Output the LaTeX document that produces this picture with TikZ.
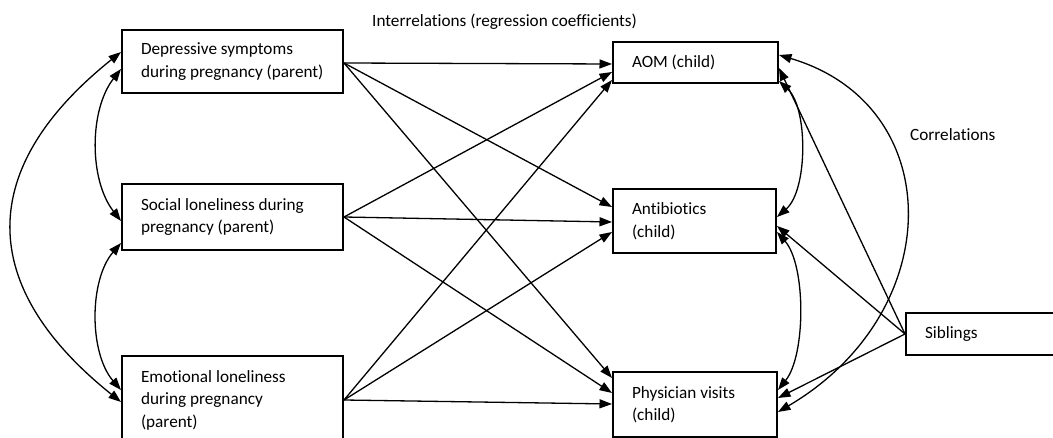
\documentclass[tikz,border=0pt]{standalone}
\usepackage{fontspec}
\setmainfont{Carlito}[Ligatures=NoCommon]
\usetikzlibrary{arrows.meta}
\begin{document}
\begin{tikzpicture}[x=1pt,y=-1pt,
  txt/.style={font=\fontsize{17.2}{22.5}\selectfont},
  box/.style={txt, draw, line width=2pt, align=flush left, inner xsep=19pt, inner ysep=2pt},
  tip/.tip={Triangle[length=12.5pt,width=9pt]},
  link/.style={line width=1.3pt, -tip},
  both/.style={line width=1.3pt, tip-tip},
  caption/.style={txt, anchor=base west, inner sep=0pt}
]
\useasboundingbox (0,0) rectangle (1053,438);

% predictors (parent)
\node[box, text width=183pt, minimum height=63pt] (dep) at (232.5,61.5)
  {Depressive symptoms\\during pregnancy (parent)};
\node[box, text width=183pt, minimum height=66pt] (soc) at (232.5,217)
  {Social loneliness during\\pregnancy (parent)};
\node[box, text width=183pt, minimum height=88pt] (emo) at (232.5,400)
  {Emotional loneliness\\during pregnancy\\(parent)};

% outcomes (child)
\node[box, text width=127pt, minimum height=41pt] (aom) at (695.5,62.5) {AOM (child)};
\node[box, text width=125pt, minimum height=64pt] (ant) at (694.5,221) {Antibiotics\\(child)};
\node[box, text width=126pt, minimum height=65pt] (phy) at (695,404.5) {Physician visits\\(child)};

% covariate
\node[box, text width=132pt, minimum height=42pt] (sib) at (991,334) {Siblings};

% headings
\node[caption] (hreg) at (372,27) {Interrelations (regression coefficients)};
\node[caption] (hcor) at (910,141) {Correlations};

% regression paths
\draw[link] ([yshift=-1.5pt]dep.east) -- ([yshift=-1.5pt]aom.west);
\draw[link] ([yshift=-1.5pt]dep.east) -- ([yshift=14pt]ant.west);
\draw[link] ([yshift=-1.5pt]dep.east) -- ([yshift=26.5pt]phy.west);
\draw[link] (soc.east) -- ([yshift=-9.5pt]aom.west);
\draw[link] (soc.east) -- ([yshift=-1pt]ant.west);
\draw[link] (soc.east) -- ([yshift=11.5pt]phy.west);
\draw[link] (emo.east) -- ([yshift=-17.5pt]aom.west);
\draw[link] (emo.east) -- ([yshift=-11pt]ant.west);
\draw[link] (emo.east) -- ([yshift=0.5pt]phy.west);

% siblings paths
\draw[link] (sib.west) -- ([yshift=-5.5pt]aom.east);
\draw[link] (sib.west) -- ([yshift=-5pt]ant.east);
\draw[link] (sib.west) -- ([yshift=6.5pt]phy.east);

% correlations among predictors
\draw[both] ([yshift=-7.5pt]dep.west) .. controls +(-32,41) and +(-32,-41) .. ([yshift=-4pt]soc.west);
\draw[both] ([yshift=-26pt]soc.west) .. controls +(-32,37) and +(-32,-37) .. ([yshift=10pt]emo.west);
\draw[both] ([yshift=9.5pt]dep.west) .. controls +(-145,116) and +(-145,-116) .. ([yshift=-2pt]emo.west);

% correlations among outcomes
\draw[both] ([yshift=-18.5pt]aom.east) .. controls +(29,27) and +(31,-27) .. ([yshift=4pt]ant.east);
\draw[both] ([yshift=-11pt]ant.east) .. controls +(29,33) and +(28,-35) .. ([yshift=14.5pt]phy.east);
\draw[both] ([yshift=7.5pt]aom.east) .. controls +(169,50) and +(170,-100) .. ([yshift=-7.5pt]phy.east);
\end{tikzpicture}
\end{document}
